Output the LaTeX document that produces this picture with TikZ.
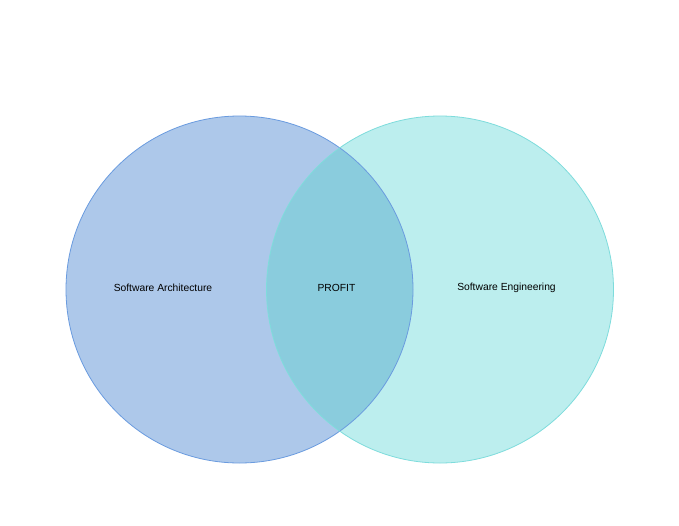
\documentclass[tikz,border=0pt]{standalone}
\usepackage{fontspec}
\setmainfont{Liberation Sans}
\definecolor{lfill}{HTML}{ADC8EA}
\definecolor{rfill}{HTML}{BCEEEE}
\definecolor{ofill}{HTML}{8ACCDD}
\definecolor{lstroke}{HTML}{6A9BDF}
\definecolor{rstroke}{HTML}{7EDCDC}
\begin{document}
\begin{tikzpicture}[x=1pt,y=-1pt,
  lbl/.style={font=\fontsize{10.3}{12}\selectfont, text=black}]
\useasboundingbox (0,0) rectangle (679,525);
\fill[white] (0,0) rectangle (679,525);
\coordinate (lc) at (239.5,289.5);
\coordinate (rc) at (440,289.5);
\fill[lfill] (lc) circle[radius=173.5];
\fill[rfill] (rc) circle[radius=173.5];
\begin{scope}
  \clip (lc) circle[radius=173.5];
  \fill[ofill] (rc) circle[radius=173.5];
\end{scope}
\draw[lstroke, line width=0.8pt] (lc) circle[radius=173.5];
\draw[rstroke, line width=0.8pt] (rc) circle[radius=173.5];
\node[lbl] (sa) at (163,288) {Software Architecture};
\node[lbl] (pr) at (336.5,288) {PROFIT};
\node[lbl] (se) at (506.5,288) {Software Engineering};
\end{tikzpicture}
\end{document}
